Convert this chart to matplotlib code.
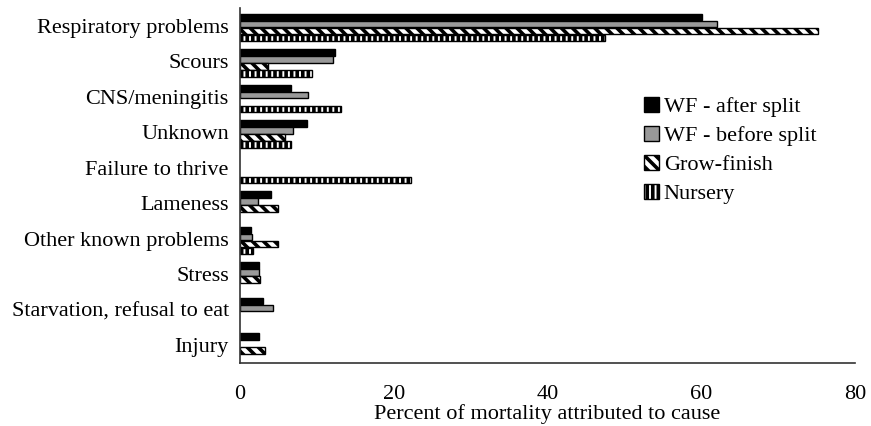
import matplotlib
matplotlib.use("Agg")
import matplotlib.pyplot as plt
import numpy as np

plt.rcParams['font.family'] = ['Liberation Serif', 'DejaVu Serif']
plt.rcParams['hatch.linewidth'] = 2.6

categories = ["Respiratory problems", "Scours", "CNS/meningitis", "Unknown",
              "Failure to thrive", "Lameness", "Other known problems", "Stress",
              "Starvation, refusal to eat", "Injury"]
series_names = ["WF - after split", "WF - before split", "Grow-finish", "Nursery"]
wf_after = [60.1, 12.3, 6.6, 8.7, 0, 4.0, 1.5, 2.5, 3.0, 2.5]
wf_before = [62.0, 12.1, 8.8, 6.9, 0, 2.3, 1.6, 2.45, 4.25, 0]
grow_finish = [75.2, 3.6, 0, 5.9, 0, 5.0, 5.0, 2.6, 0, 3.25]
nursery = [47.5, 9.4, 13.1, 6.6, 22.2, 0, 1.7, 0, 0, 0]
xticks = [0, 20, 40, 60, 80]

fig = plt.figure(figsize=(8.71, 4.26), dpi=100)
ax = fig.add_axes([0.2755, 0.148, 0.706, 0.833])

y = np.arange(len(categories))
h = 0.195
styles = [
    dict(color="black", edgecolor="black"),
    dict(color="#999999", edgecolor="black"),
    dict(color="white", edgecolor="black", hatch="\\\\\\"),
    dict(color="white", edgecolor="black", hatch="|||"),
]
data = [wf_after, wf_before, grow_finish, nursery]
for i, (vals, st, name) in enumerate(zip(data, styles, series_names)):
    vals = np.asarray(vals, dtype=float)
    mask = vals > 0
    ax.barh(y[mask] + (i - 1.25) * h, vals[mask], height=h * 0.92, linewidth=1.0,
            label=name, **st)

ax.set_ylim(len(categories) - 0.5, -0.5)
ax.set_xlim(0, 80)
ax.set_yticks(y)
ax.set_yticklabels(categories, fontsize=16)
ax.set_xticks(xticks)
ax.set_xticklabels([str(t) for t in xticks], fontsize=16)
ax.tick_params(length=0, pad=8)
ax.tick_params(axis='x', pad=16)
for s in ["top", "right"]:
    ax.spines[s].set_visible(False)
for s in ["left", "bottom"]:
    ax.spines[s].set_color("#333333")
    ax.spines[s].set_linewidth(1.2)
ax.set_xlabel("Percent of mortality attributed to cause", fontsize=16, labelpad=0)

leg = ax.legend(loc="upper left", bbox_to_anchor=(0.624, 0.806), frameon=False,
                fontsize=16, handlelength=0.7, handleheight=0.7, handletextpad=0.2,
                labelspacing=0.38)

fig.savefig("out.png", dpi=100)
